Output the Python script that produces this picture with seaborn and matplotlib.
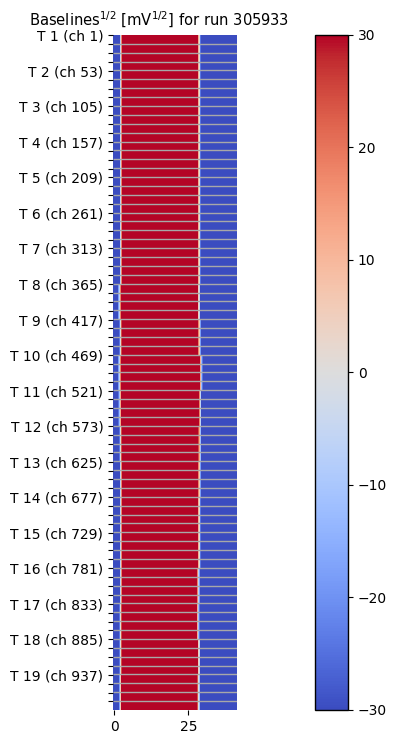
import numpy as np
import matplotlib
matplotlib.use('Agg')
import matplotlib.pyplot as plt
import seaborn as sns

run_number = 305933
n_towers = 19
ch_per_tower = 52
ch_per_tick = 13

# edges of the red band for each tower (mV^1/2)
left_edge = [2.2, 2.2, 2.2, 2.2, 2.2, 2.2, 2.2, 1.8, 2.1, 1.8,
             1.9, 2.1, 2.2, 2.2, 2.2, 2.2, 2.1, 2.1, 2.0]
right_edge = [28.7, 28.7, 28.7, 28.7, 28.7, 28.7, 28.7, 28.6, 28.8, 29.3,
              29.0, 28.9, 28.8, 28.7, 28.7, 28.4, 28.3, 28.6, 28.5]
x_min, x_max = -0.4, 41.4
x_step = 0.2
x_tick_values = [0, 25]
cbar_min, cbar_max = -30, 30


def build_matrix():
    '''
    One row per channel, one column per x_step bin
    '''
    x_centers = np.arange(x_min, x_max, x_step) + x_step / 2
    rows = []
    for t in range(n_towers):
        inside = np.minimum(x_centers - left_edge[t], right_edge[t] - x_centers)
        row = np.clip(inside / 0.5 * cbar_max, cbar_min, cbar_max)
        rows.extend([row] * ch_per_tower)
    return np.array(rows)


def baseline_map(data):
    fig = plt.figure(figsize=(3.97, 7.44), dpi=100)
    ax = fig.add_axes([0.2846, 0.0457, 0.3123, 0.9073])
    cax = fig.add_axes([0.7935, 0.0457, 0.0831, 0.9073])

    sns.heatmap(data, cmap='coolwarm', vmin=cbar_min, vmax=cbar_max, ax=ax, cbar_ax=cax,
                xticklabels=False, yticklabels=False)

    # thin grey separators every 13 channels
    n_ch = data.shape[0]
    sep_rows = np.arange(ch_per_tick, n_ch, ch_per_tick)
    ax.hlines(sep_rows, 0, data.shape[1], colors='#a8a8a8', linewidth=1)

    # axis ticks
    ax.set_xticks([(v - x_min) / x_step for v in x_tick_values])
    ax.set_xticklabels([str(v) for v in x_tick_values], rotation=0)
    tick_rows = np.arange(0, n_ch, ch_per_tick)
    labels = []
    for r in tick_rows:
        if r % ch_per_tower == 0:
            labels.append('T %d (ch %d)' % (r // ch_per_tower + 1, r + 1))
        else:
            labels.append('')
    ax.set_yticks(tick_rows + 0.5)
    ax.set_yticklabels(labels, rotation=0, va='center_baseline')
    ax.tick_params(axis='both', length=3.5, width=0.8, labelsize=10)

    cb = ax.collections[0].colorbar
    cb.outline.set_visible(True)
    cb.outline.set_linewidth(1)
    cb.outline.set_edgecolor('black')
    cb.ax.tick_params(length=3.5, width=0.8, labelsize=10)

    fig.text(0.40, 0.987, 'Baselines$^{1/2}$ [mV$^{1/2}$] for run %d' % run_number,
             fontsize=10.6, ha='center', va='top')

    fig.savefig('out.png', dpi=100)


if __name__ == "__main__":
    baseline_map(build_matrix())
